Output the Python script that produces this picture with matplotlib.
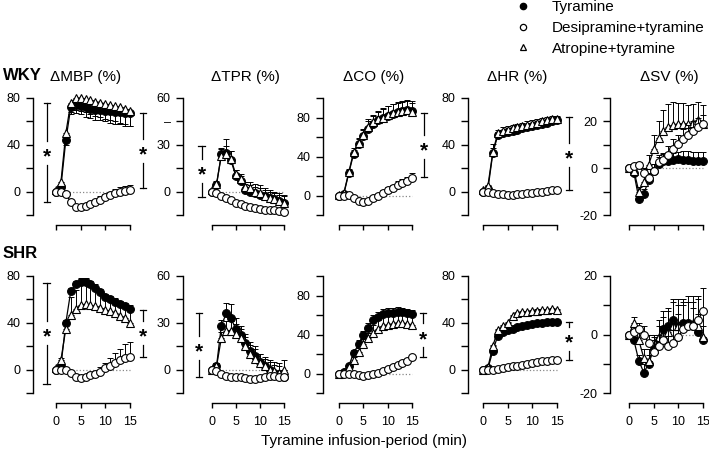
import numpy as np
import matplotlib
matplotlib.use('Agg')
import matplotlib.pyplot as plt
from matplotlib.lines import Line2D

plt.rcParams['font.family'] = ['Liberation Sans', 'DejaVu Sans']

minutes = np.arange(16)

# ---- WKY ----
wky_mbp_tyr = [0, 4, 44, 72, 74, 73, 72, 71, 70, 70, 69, 69, 68, 68, 67, 67]
wky_mbp_tyr_err = [0, -2, -4, -6, -7, -7, -8, -8, -9, -9, -9, -10, -10, -10, -11, -11]
wky_mbp_des = [0, 0, -2, -9, -13, -13, -12, -11, -9, -7, -5, -3, -1.5, 0, 0.5, 1.5]
wky_mbp_des_err = [0, 0, 1, 1, 1, 1, 2, 2, 2, 3, 3, 3, 4, 4, 4, 4]
wky_mbp_atr = [1, 8, 50, 76, 80, 80, 79, 78, 77, 76, 75, 74, 73, 72, 71, 69]
wky_mbp_atr_err = [0, -2, -5, -8, -10, -11, -11, -12, -12, -12, -13, -13, -13, -13, -13, -13]

wky_tpr_tyr = [0, 4, 24, 25, 20, 10, 7, 1, 0, -1, -2, -3, -4, -5, -6, -7]
wky_tpr_tyr_err = [0, 2, 4, 9, 6, 4, 3, 4, 4, 4, 4, 4, 4, 4, 4, 4]
wky_tpr_des = [0, -1, -3, -4, -5.5, -7, -8, -9, -10, -10.5, -11, -11.5, -12, -12, -12.5, -13]
wky_tpr_des_err = [0, -1, -1, -1, -1, -1, -1, -1, -1, -1, -1, -1, -1, -1, -1, -1]
wky_tpr_atr = [1, 5, 23, 24, 21, 11, 8, 3, 2, 0, -1, -3, -4, -5, -6, -7]
wky_tpr_atr_err = [0, 2, 4, 5, 5, 3, 3, 3, 4, 5, 5, 5, 5, 5, 5, 5]

wky_co_tyr = [0, 2, 23, 43, 53, 61, 68, 73, 77, 80, 82, 84, 86, 87, 88, 87]
wky_co_tyr_err = [0, 1, 3, 4, 5, 6, 8, 9, 9, 10, 10, 10, 10, 10, 10, 10]
wky_co_des = [0, 0, 0.5, -3, -6, -7, -6, -3, 0, 3, 6, 8, 11, 13, 15, 18]
wky_co_des_err = [0, 0, 1, 1, 1, 1, 2, 2, 2, 3, 3, 3, 4, 4, 4, 5]
wky_co_atr = [1, 3, 24, 45, 54, 62, 70, 75, 78, 80, 83, 85, 86, 87, 88, 86]
wky_co_atr_err = [0, 1, 3, 4, 5, 6, 8, 8, 9, 9, 9, 9, 9, 9, 9, 9]

wky_hr_tyr = [0, 2, 33, 48, 50, 51, 52, 53, 54, 55, 56, 57, 58, 59, 60, 61]
wky_hr_tyr_err = [0, 1, 8, 3, 3, 3, 3, 3, 3, 3, 3, 3, 3, 3, 3, 3]
wky_hr_des = [0, 0, -1, -2, -2, -2.5, -2.5, -2, -2, -1.5, -1, 0, 0, 0.5, 1, 1]
wky_hr_des_err = [0, 1, 1, 1, 1, 1, 1, 1, 1, 1, 1, 1, 1, 1, 1, 1]
wky_hr_atr = [1, 5, 34, 50, 52, 53, 54, 55, 56, 57, 58, 59, 60, 61, 62, 62]
wky_hr_atr_err = [0, 1, 3, 3, 3, 3, 3, 3, 3, 3, 3, 3, 3, 3, 3, 3]

wky_sv_tyr = [0, -2, -13, -11, -5, -1, 2, 3, 3, 3.5, 4, 3.5, 3.5, 3, 3, 3]
wky_sv_tyr_err = [0, 1, 2, 2, 2, 3, 3, 3, 3, 3, 3, 4, 4, 4, 4, 4]
wky_sv_des = [0, 1, 1.5, -2, -4, -1, 2.5, 3.5, 5.5, 8.3, 10.4, 12.6, 14.3, 16, 17.6, 18.7]
wky_sv_des_err = [0, 1, 1, 2, 2, 3, 3, 3, 4, 4, 4, 4, 4, 4, 4, 4]
wky_sv_atr = [0, -1, -10, -6, 1.5, 8, 13, 16, 17.5, 18.5, 19, 19, 19, 19.5, 20.5, 19]
wky_sv_atr_err = [0, 1, 2, 3, 4, 6, 7, 9, 10, 10, 9, 9, 8, 8, 8, 8]

# ---- SHR ----
shr_mbp_tyr = [0, 3, 40, 67, 73, 75, 75, 73, 70, 66, 62, 60, 58, 56, 54, 52]
shr_mbp_tyr_err = [0, 1, 2, 3, 3, 3, 3, 3, 3, 3, 3, 3, 3, 3, 3, 3]
shr_mbp_des = [0, 0, 0, -3, -6, -7, -6, -5, -4, -2, 1, 3, 6, 8, 10, 11]
shr_mbp_des_err = [0, 0, 1, 2, 2, 2, 2, 3, 3, 4, 5, 7, 8, 10, 12, 13]
shr_mbp_atr = [1, 8, 35, 47, 52, 55, 56, 55, 54, 53, 51, 50, 48, 46, 44, 40]
shr_mbp_atr_err = [0, 2, 5, 15, 16, 17, 17, 16, 15, 14, 13, 12, 12, 11, 11, 11]

shr_tpr_tyr = [0, 2, 28, 36, 33, 26, 22, 17, 12, 9, 5, 2, 0, -2, -3, -5]
shr_tpr_tyr_err = [0, 2, 4, 7, 9, 7, 6, 6, 6, 6, 5, 5, 5, 5, 5, 5]
shr_tpr_des = [0, -1, -3, -4, -4.5, -5, -5, -5.5, -6, -6, -5.5, -5, -4, -4, -4.5, -5]
shr_tpr_des_err = [0, -1, -1, -1, -1, -1, -1, -1, -1, -1, -1, -1, -1, -1, -1, -1]
shr_tpr_atr = [0, 2, 20, 25, 25, 23, 20, 15, 10, 7, 4, 2, 0, -1, -2, 0]
shr_tpr_atr_err = [0, 2, 4, 6, 6, 6, 6, 6, 6, 6, 6, 6, 6, 6, 6, 6]

shr_co_tyr = [0, 2, 8, 21, 30, 40, 47, 55, 58, 61, 62, 62, 63, 63, 62, 61]
shr_co_tyr_err = [0, 1, 2, 3, 4, 4, 5, 5, 5, 5, 5, 5, 5, 4, 4, 4]
shr_co_des = [0, 0, 0, -1, -2, -3, -2, -1, 1, 3, 5, 7, 9, 11, 13, 17]
shr_co_des_err = [0, 0, 1, 1, 1, 1, 1, 1, 1, 1, 1, 2, 2, 2, 2, 2]
shr_co_atr = [0, 2, 7, 14, 22, 30, 36, 42, 46, 49, 50, 51, 52, 52, 51, 50]
shr_co_atr_err = [0, 1, 2, 3, 4, 5, 6, 8, 9, 10, 11, 12, 12, 12, 12, 12]

shr_hr_tyr = [0, 1, 16, 29, 32, 34, 35, 36, 37, 38, 39, 39.5, 40, 40.5, 41, 41]
shr_hr_tyr_err = [0, 1, 1, 1, 1, 1, 1, 1, 1, 1, 1, 1, 1, 1, 1, 1]
shr_hr_des = [0, 0, 0, 0.5, 1, 2, 3, 3.5, 4, 5, 6, 6.5, 7, 7.5, 8, 8]
shr_hr_des_err = [0, 1, 1, 1, 1, 1, 1, 1, 1, 1, 1, 1, 1, 1, 1, 1]
shr_hr_atr = [0, 2, 20, 34, 37, 40, 46, 48, 49, 49.5, 50, 50.5, 51, 51, 51.5, 51]
shr_hr_atr_err = [0, 1, 1, 1, 1, 1, 1, 1, 1, 1, 1, 1, 1, 1, 1, 1]

shr_sv_tyr = [0, -2, -9, -13, -10, -5, -2, 2, 3, 5, 3, 4, 4, 3, 1, -2]
shr_sv_tyr_err = [0, 1, 2, 3, 3, 4, 5, 6, 6, 7, 7, 7, 7, 6, 6, 5]
shr_sv_des = [0, 1, 2, 0, -3, -6, -4, -2, -4, -3, -1, 2, 3, 3, 5, 8]
shr_sv_des_err = [0, 1, 2, 3, 3, 4, 4, 5, 6, 7, 8, 8, 8, 8, 8, 8]
shr_sv_atr = [0, 4, -2, -8, -9, -5, -1, 0, 1, 3, 3, 3, 4, 4, 3, -1]
shr_sv_atr_err = [0, 2, 3, 3, 4, 5, 6, 6, 7, 8, 9, 9, 9, 9, 9, 9]

titles = ['\u0394MBP (%)', '\u0394TPR (%)', '\u0394CO (%)', '\u0394HR (%)', '\u0394SV (%)']
groups = ['WKY', 'SHR']
legend_labels = ['Tyramine', 'Desipramine+tyramine', 'Atropine+tyramine']

ylims = [[(-20, 80), (-15, 60), (-20, 100), (-20, 80), (-20, 30)],
         [(-20, 80), (-15, 60), (-20, 100), (-20, 80), (-20, 20)]]
yticks = [[[-20, 0, 20, 40, 60, 80], [-15, 0, 15, 30, 45, 60], [-20, 0, 20, 40, 60, 80, 100],
           [-20, 0, 20, 40, 60, 80], [-20, -10, 0, 10, 20, 30]],
          [[-20, 0, 20, 40, 60, 80], [-15, 0, 15, 30, 45, 60], [-20, 0, 20, 40, 60, 80, 100],
           [-20, 0, 20, 40, 60, 80], [-20, -10, 0, 10, 20]]]
ytick_labels = [[['', '0', '', '40', '', '80'], ['', '0', '', '30', '\u2013', '60'],
                 ['', '0', '', '40', '', '80', ''], ['', '0', '', '40', '', '80'],
                 ['-20', '', '0', '', '20', '']],
                [['', '0', '', '40', '', '80'], ['', '0', '', '30', '', '60'],
                 ['', '0', '', '40', '', '80', ''], ['', '0', '', '40', '', '80'],
                 ['-20', '', '0', '', '20']]]

series = [
    [(wky_mbp_tyr, wky_mbp_tyr_err, wky_mbp_des, wky_mbp_des_err, wky_mbp_atr, wky_mbp_atr_err),
     (wky_tpr_tyr, wky_tpr_tyr_err, wky_tpr_des, wky_tpr_des_err, wky_tpr_atr, wky_tpr_atr_err),
     (wky_co_tyr, wky_co_tyr_err, wky_co_des, wky_co_des_err, wky_co_atr, wky_co_atr_err),
     (wky_hr_tyr, wky_hr_tyr_err, wky_hr_des, wky_hr_des_err, wky_hr_atr, wky_hr_atr_err),
     (wky_sv_tyr, wky_sv_tyr_err, wky_sv_des, wky_sv_des_err, wky_sv_atr, wky_sv_atr_err)],
    [(shr_mbp_tyr, shr_mbp_tyr_err, shr_mbp_des, shr_mbp_des_err, shr_mbp_atr, shr_mbp_atr_err),
     (shr_tpr_tyr, shr_tpr_tyr_err, shr_tpr_des, shr_tpr_des_err, shr_tpr_atr, shr_tpr_atr_err),
     (shr_co_tyr, shr_co_tyr_err, shr_co_des, shr_co_des_err, shr_co_atr, shr_co_atr_err),
     (shr_hr_tyr, shr_hr_tyr_err, shr_hr_des, shr_hr_des_err, shr_hr_atr, shr_hr_atr_err),
     (shr_sv_tyr, shr_sv_tyr_err, shr_sv_des, shr_sv_des_err, shr_sv_atr, shr_sv_atr_err)],
]

# significance brackets: (row, col, x, top, bottom, star)
sig_marks = [
    (0, 0, -1.8, 76, -9, 33), (0, 0, 17.6, 67, 3, 35),
    (0, 1, -2.1, 29.4, -3.2, 13),
    (0, 2, 17.5, 85, 19, 50),
    (0, 3, 17.4, 64, 1, 31),
    (1, 0, -1.9, 74, -12, 31), (1, 0, 17.6, 51, 11, 31),
    (1, 1, -2.6, 36, -5, 14),
    (1, 2, 17.2, 62, 17, 39),
    (1, 3, 17.4, 41, 8.5, 26),
]

# layout in pixels
W, H = 709, 454
col_left = [33, 183, 323, 468, 610]
col_xmin = [-4.66, -5.95, -3.3, -3.04, -3.85]
col_scale = [4.93, 4.82, 4.87, 4.93, 4.93]
title_x = [86, 245, 374, 517, 669]
row_top = [98, 276]
group_y = [76, 253]
row_h = 117
xmax = 16

fig = plt.figure(figsize=(W / 100, H / 100), dpi=100)


def split_err(err):
    err = np.asarray(err, dtype=float)
    return [np.where(err < 0, -err, 0), np.where(err > 0, err, 0)]


def draw_series(ax, y, err, face, marker, z):
    ax.errorbar(minutes, y, yerr=split_err(err), fmt='none', ecolor='k',
                elinewidth=0.7, capsize=2, capthick=0.7, zorder=z - 0.5, clip_on=False)
    ax.plot(minutes, y, '-', color='k', lw=0.9, marker=marker,
            ms=5.6 if marker == 'o' else 5.4,
            mfc=face, mec='k', mew=0.8, zorder=z, clip_on=False)


axes = {}
for r in range(2):
    for c in range(5):
        width = (xmax - col_xmin[c]) * col_scale[c]
        ax = fig.add_axes([col_left[c] / W, 1 - (row_top[r] + row_h) / H, width / W, row_h / H])
        axes[(r, c)] = ax
        tyr, tyr_err, des, des_err, atr, atr_err = series[r][c]
        ax.plot([0, 15], [0, 0], ls=':', color='#888888', lw=0.9, zorder=1)
        draw_series(ax, tyr, tyr_err, 'k', 'o', 3)
        draw_series(ax, atr, atr_err, 'white', '^', 4)
        draw_series(ax, des, des_err, 'white', 'o', 5)

        ax.set_xlim(col_xmin[c], xmax)
        ax.set_ylim(*ylims[r][c])
        ax.set_yticks(yticks[r][c])
        ax.set_yticklabels(ytick_labels[r][c])
        ax.set_xticks([0, 5, 10, 15])
        if r == 0:
            ax.set_xticklabels([])
        ax.spines['top'].set_visible(False)
        ax.spines['right'].set_visible(False)
        ax.spines['bottom'].set_position(('outward', 7.2))
        ax.spines['bottom'].set_bounds(0, 15)
        for s in ('left', 'bottom'):
            ax.spines[s].set_linewidth(1.0)
        ax.tick_params(axis='y', direction='out', length=5, width=1.0, pad=4, labelsize=9)
        ax.tick_params(axis='x', direction='out', length=3.6, width=1.0, pad=6, labelsize=9)
        ax.patch.set_visible(False)

        if r == 0:
            fig.text(title_x[c] / W, 1 - 77 / H, titles[c], ha='center', va='center', fontsize=11)

for r, c, x, top, bot, star in sig_marks:
    ax = axes[(r, c)]
    lo, hi = ax.get_ylim()
    per_px = (hi - lo) / row_h
    gap = 12 * per_px
    cap = 0.65
    kw = dict(color='k', lw=0.9, clip_on=False)
    ax.plot([x, x], [top, star + gap], **kw)
    ax.plot([x - cap, x + cap], [top, top], **kw)
    ax.plot([x, x], [star - gap, bot], **kw)
    ax.plot([x - cap, x + cap], [bot, bot], **kw)
    ax.text(x, star - 4 * per_px, '*', ha='center', va='center', fontsize=15,
            fontweight='bold', clip_on=False)

for g, gy in zip(groups, group_y):
    fig.text(3 / W, 1 - gy / H, g, ha='left', va='center', fontsize=12, fontweight='bold')

fig.text(364 / W, 1 - 441 / H, 'Tyramine infusion-period (min)', ha='center', va='center', fontsize=11)

handles = [Line2D([], [], ls='none', marker='o', mfc='k', mec='k', ms=4.5),
           Line2D([], [], ls='none', marker='o', mfc='white', mec='k', ms=4.5, mew=0.9),
           Line2D([], [], ls='none', marker='^', mfc='white', mec='k', ms=4.5, mew=0.9)]
fig.legend(handles, legend_labels, loc='upper left', bbox_to_anchor=(515 / W, 1.0),
           frameon=False, fontsize=11, handlelength=1.0, handletextpad=1.4,
           labelspacing=0.45, borderpad=0, borderaxespad=0, numpoints=1)

fig.savefig('out.png', dpi=100)
